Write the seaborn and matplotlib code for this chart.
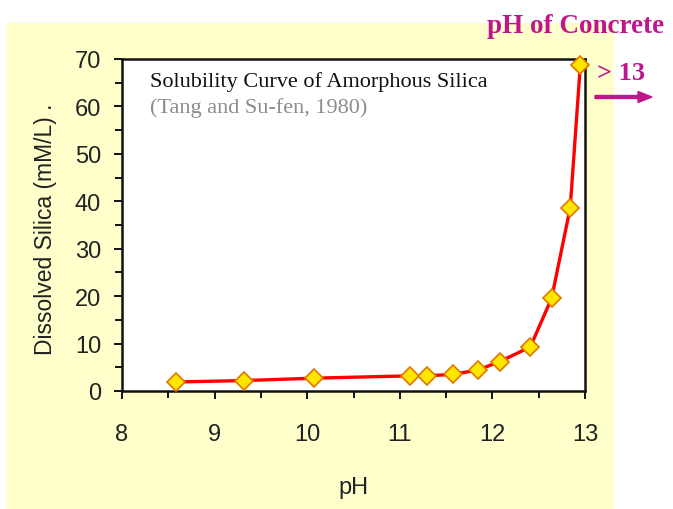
import matplotlib
matplotlib.use("Agg")
import matplotlib.pyplot as plt
from matplotlib.patches import Rectangle, FancyArrow
from matplotlib.ticker import MultipleLocator
import seaborn as sns
import pandas as pd

# Data
ph = [8.58, 9.32, 10.07, 11.11, 11.29, 11.57, 11.84, 12.08, 12.41, 12.64, 12.84, 12.95]
silica = [1.9, 2.2, 2.7, 3.2, 3.2, 3.5, 4.4, 6.2, 9.3, 19.6, 38.6, 68.8]
x_ticks = [8, 9, 10, 11, 12, 13]
y_ticks = [0, 10, 20, 30, 40, 50, 60, 70]

title_text = "Solubility Curve of Amorphous Silica"
source_text = "(Tang and Su-fen, 1980)"
concrete_text = "pH of Concrete"
gt_text = "> 13"
x_label = "pH"
y_label = "Dissolved Silica (mM/L) ."

sns.set_theme(style="ticks")
plt.rcParams["font.family"] = ["Liberation Sans", "DejaVu Sans"]

MAGENTA = "#c0168c"
W, H = 673, 510
fig = plt.figure(figsize=(W / 100, H / 100), dpi=100)
fig.patch.set_facecolor("white")

# pale yellow backdrop panel
fig.patches.append(Rectangle((7 / W, 0), (614 - 7) / W, (510 - 24) / H,
                             transform=fig.transFigure, facecolor="#ffffcc",
                             edgecolor="none", zorder=-5))

ax = fig.add_axes([122 / W, (510 - 392) / H, (585 - 122) / W, (392 - 60) / H])
ax.set_zorder(2)
ax.set_facecolor("white")

df = pd.DataFrame({"pH": ph, "silica": silica})
sns.lineplot(data=df, x="pH", y="silica", ax=ax, color="#ff0000", linewidth=2.4,
             marker="D", markersize=9, markerfacecolor="#ffe600",
             markeredgecolor="#e07800", markeredgewidth=1.2, clip_on=False, zorder=3)

ax.set_xlim(8, 13)
ax.set_ylim(0, 70)
ax.set_xticks(x_ticks)
ax.set_yticks(y_ticks)
ax.xaxis.set_minor_locator(MultipleLocator(0.5))
ax.yaxis.set_minor_locator(MultipleLocator(5))
ax.set_xticklabels([str(v) for v in x_ticks])
ax.set_yticklabels([str(v) for v in y_ticks])

for s in ax.spines.values():
    s.set_visible(True)
    s.set_linewidth(1.8)
    s.set_color("#111111")

ax.tick_params(axis="both", which="major", direction="out", length=6, width=1.4,
               colors="#111111", labelsize=17, labelcolor="#222222")
ax.tick_params(axis="both", which="minor", direction="out", length=5, width=1.4,
               colors="#111111")
ax.tick_params(axis="x", which="major", pad=17)
ax.tick_params(axis="y", which="major", pad=9)

ax.set_xlabel(x_label, fontsize=17, color="#222222")
ax.set_ylabel(y_label, fontsize=16.5, color="#222222")
ax.xaxis.set_label_coords(0.5, -0.256)
ax.yaxis.set_label_coords(-0.14, 0.49)

serif = ["Liberation Serif", "DejaVu Serif"]
fig.text(150 / W, 1 - 87 / H, title_text, family=serif, fontsize=16,
         color="#111111", ha="left", va="baseline", zorder=10)
fig.text(150 / W, 1 - 113 / H, source_text, family=serif, fontsize=16,
         color="#8c8c8c", ha="left", va="baseline", zorder=10)
fig.text(487 / W, 1 - 33 / H, concrete_text, family=serif, fontsize=19.5,
         fontweight="bold", color=MAGENTA, ha="left", va="baseline", zorder=10)
fig.text(597 / W, 1 - 80 / H, gt_text, family=serif, fontsize=19,
         fontweight="bold", color=MAGENTA, ha="left", va="baseline", zorder=10)
fig.patches.append(FancyArrow(
    595 / W, 1 - 98 / H, 57 / W, 0, width=3 / H, head_width=11 / H,
    head_length=14 / W, length_includes_head=True, transform=fig.transFigure,
    color=MAGENTA, zorder=10))

fig.savefig("out.png", dpi=100, facecolor="white")
